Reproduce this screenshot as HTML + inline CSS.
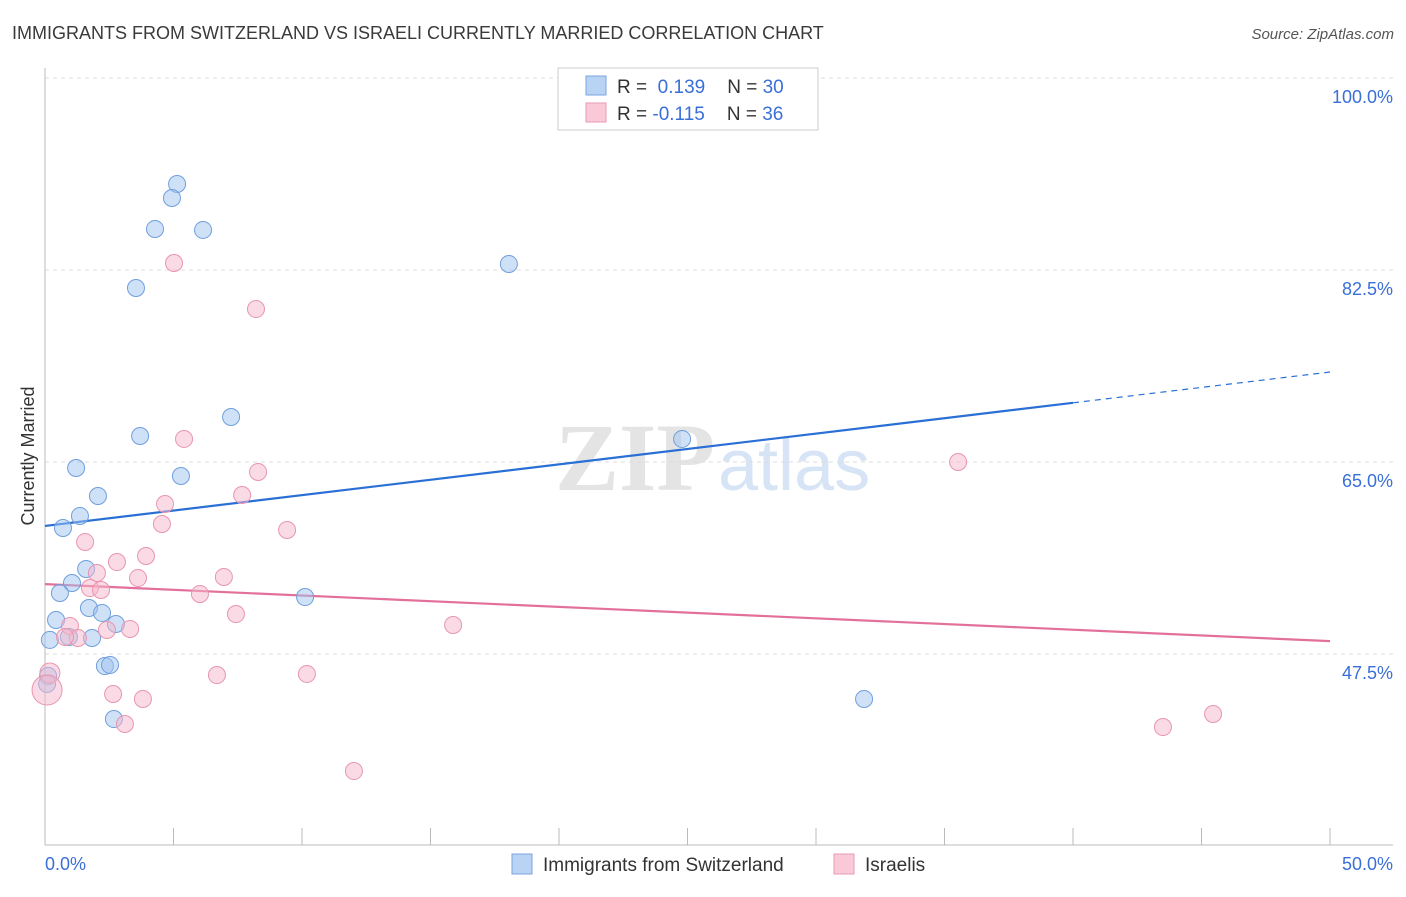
<!DOCTYPE html>
<html><head><meta charset="utf-8"><style>
body{margin:0;background:#fff;font-family:"Liberation Sans",sans-serif;}
#c{position:relative;width:1406px;height:892px;}
</style></head><body>
<div id="c">
<svg id="s" width="1406" height="892" xmlns="http://www.w3.org/2000/svg">
<text x="12" y="39" font-size="18" fill="#3a3a3a">IMMIGRANTS FROM SWITZERLAND VS ISRAELI CURRENTLY MARRIED CORRELATION CHART</text>
<text x="1394" y="39" font-size="15" fill="#555" font-style="italic" text-anchor="end">Source: ZipAtlas.com</text>
<text x="555" y="490" font-size="96" fill="#e4e4e4" font-family="Liberation Serif" font-weight="bold">ZIP</text>
<text x="718" y="490" font-size="72" fill="#d6e4f5">atlas</text>
<g id="grid"></g>
<line x1="45" y1="68" x2="45" y2="845" stroke="#bbb"/>
<line x1="45" y1="845" x2="1393" y2="845" stroke="#bbb"/>
<g id="xt"></g>
<text x="34" y="456" font-size="18" fill="#333" transform="rotate(-90 34 456)" text-anchor="middle">Currently Married</text>
<text x="45" y="870" font-size="18" fill="#3a6fd8">0.0%</text>
<text x="1393" y="870" font-size="18" fill="#3a6fd8" text-anchor="end">50.0%</text>
<g id="lines"></g>
<g id="pts"></g>
<g>
<rect x="558" y="68" width="260" height="62" fill="#fff" stroke="#ccc"/>
<rect x="586" y="76" width="20" height="19" fill="#b9d3f5" stroke="#7aa6e0"/>
<rect x="586" y="103" width="20" height="19" fill="#f9c9d8" stroke="#e89ab3"/>
<text x="617" y="93" font-size="19" fill="#333">R = <tspan fill="#3a6fd8">&#160;0.139</tspan><tspan dx="22">N = </tspan><tspan fill="#3a6fd8">30</tspan></text>
<text x="617" y="120" font-size="19" fill="#333">R = <tspan fill="#3a6fd8">-0.115</tspan><tspan dx="22">N = </tspan><tspan fill="#3a6fd8">36</tspan></text>
</g>
<g>
<rect x="512" y="854" width="20" height="20" fill="#b9d3f5" stroke="#7aa6e0"/>
<text x="543" y="871" font-size="19" fill="#333">Immigrants from Switzerland</text>
<rect x="834" y="854" width="20" height="20" fill="#f9c9d8" stroke="#e89ab3"/>
<text x="865" y="871" font-size="19" fill="#333">Israelis</text>
</g>
</svg>
</div>
<script>
const yTicks=[100,82.5,65,47.5];
const yTickLabels=["100.0%","82.5%","65.0%","47.5%"];
const xTicks=[0,5,10,15,20,25,30,35,40,45,50];
const blueX=[5.14,4.94,4.28,6.15,3.54,18.05,7.24,3.70,24.79,1.21,5.29,2.06,1.36,0.70,1.60,1.05,0.58,1.71,2.22,0.43,2.76,0.19,0.93,1.83,2.33,2.53,0.12,0.08,2.68,10.12,31.87];
const blueY=[90.34,89.06,86.24,86.15,80.86,83.05,69.1,67.37,67.1,64.45,63.72,61.9,60.08,58.98,55.25,53.97,53.06,51.69,51.24,50.6,50.23,48.78,49.05,48.96,46.4,46.5,45.5,44.77,41.57,52.69,43.4];
const pinkX=[5.02,8.21,5.41,8.29,7.67,4.67,4.55,9.42,1.56,3.93,2.80,2.02,3.62,6.96,1.75,2.18,6.03,7.43,0.97,3.31,2.41,1.28,0.78,15.88,35.53,2.65,3.81,6.69,10.19,3.11,12.02,43.5,45.45,0.19,0.08];
const pinkY=[83.14,78.94,67.1,64.09,61.99,61.17,59.35,58.8,57.71,56.43,55.88,54.88,54.42,54.52,53.51,53.33,52.97,51.14,50.05,49.78,49.69,48.96,49.05,50.14,65.0,43.85,43.4,45.58,45.68,41.12,36.83,40.84,42.03,45.77,44.22];
const pinkR=[8.5,8.5,8.5,8.5,8.5,8.5,8.5,8.5,8.5,8.5,8.5,8.5,8.5,8.5,8.5,8.5,8.5,8.5,8.5,8.5,8.5,8.5,8.5,8.5,8.5,8.5,8.5,8.5,8.5,8.5,8.5,8.5,8.5,10,15];
const blueTrend=[59.17,73.2];
const pinkTrend=[53.87,48.67];
const X=v=>45+v*25.7, Y=v=>78+(100-v)*10.971;
const NS="http://www.w3.org/2000/svg";
function mk(t,a,p){const e=document.createElementNS(NS,t);for(const k in a)e.setAttribute(k,a[k]);document.getElementById(p).appendChild(e);return e;}
yTicks.forEach((t,i)=>{
 const l=mk('line',{x1:45,x2:1393,y1:Y(t),y2:Y(t),stroke:'#ddd','stroke-dasharray':'4,4'},'grid');
 
 
 const tx=mk('text',{x:1393,y:Y(t)+25,'font-size':18,fill:'#3a6fd8','text-anchor':'end'},'grid');
 tx.textContent=yTickLabels[i];
 
 
});
xTicks.forEach(t=>{
 const l=mk('line',{x1:X(t),x2:X(t),y1:828,y2:845,stroke:'#bbb'},'xt');
 
 
});
let b=mk('line',{x1:X(0),y1:Y(blueTrend[0]),x2:X(40),y2:Y(blueTrend[0]+(blueTrend[1]-blueTrend[0])*0.8),stroke:'#2a6fd6','stroke-width':2.2},'lines');


let bd=mk('line',{x1:X(40),y1:Y(blueTrend[0]+(blueTrend[1]-blueTrend[0])*0.8),x2:X(50),y2:Y(blueTrend[1]),stroke:'#2a6fd6','stroke-width':1.2,'stroke-dasharray':'6,5'},'lines');


let p=mk('line',{x1:X(0),y1:Y(pinkTrend[0]),x2:X(50),y2:Y(pinkTrend[1]),stroke:'#e3709a','stroke-width':2.2},'lines');


blueX.forEach((v,i)=>{
 const c=mk('circle',{cx:X(v),cy:Y(blueY[i]),r:8.5,fill:'rgba(160,196,240,0.5)',stroke:'#6f9fdc','stroke-width':1},'pts');
 
 
});
pinkX.forEach((v,i)=>{
 const c=mk('circle',{cx:X(v),cy:Y(pinkY[i]),r:pinkR[i],fill:'rgba(246,184,204,0.5)',stroke:'#e895b0','stroke-width':1},'pts');
 
 
});
</script>
</body></html>
